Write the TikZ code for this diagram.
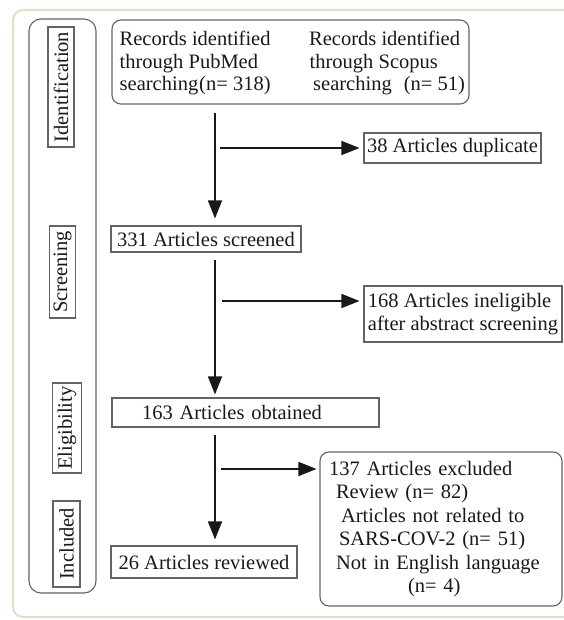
\documentclass[tikz,border=0pt]{standalone}
\usepackage{fontspec}
\setmainfont{Liberation Serif}
\usetikzlibrary{arrows.meta,positioning}
\definecolor{FrameTan}{RGB}{228,224,198}
\definecolor{BoxGray}{RGB}{100,100,100}
\definecolor{InkDark}{RGB}{25,25,25}

\begin{document}
\begin{tikzpicture}[x=1pt, y=-1pt,
    txt/.style={font=\fontsize{20.5pt}{22.5pt}\selectfont, text=InkDark},
    box/.style={txt, draw=BoxGray, line width=1.1pt, inner sep=0pt},
    roundbox/.style={box, rounded corners=9pt},
    phase/.style={box, rotate=90, minimum height=26pt},
    flow/.style={-{Triangle[length=18pt,width=14pt]}, line width=1.6pt, draw=InkDark}]
  \useasboundingbox (0,0) rectangle (563,620);
  \fill[white] (0,0) rectangle (563,620);
  \draw[FrameTan, line width=2pt, rounded corners=10pt] (13,10) rectangle (585,617);
  % phase column
  \draw[BoxGray, line width=1.1pt, rounded corners=12pt] (29,19) rectangle (96,593);
  \node[phase, minimum width=120pt] (ident) at (61,87) {Identification};
  \node[phase, minimum width=92pt] (screen) at (62.5,272) {Screening};
  \node[phase, minimum width=90pt, minimum height=29pt] (elig) at (67,428) {Eligibility};
  \node[phase, minimum width=86pt, minimum height=27pt] (incl) at (66.5,544) {Included};
  % flow boxes
  \node[roundbox, minimum width=357pt, minimum height=84pt] (records) at (290.5,62) {};
  \node[txt, align=left, anchor=north west, inner sep=0pt] (pubmed) at (119.5,31)
    {Records identified\\through PubMed\\searching\hspace{1pt}(n= 318)};
  \node[txt, align=left, anchor=north west, inner sep=0pt] (scopus) at (309,31)
    {Records identified\\\hspace*{0.5pt}through Scopus\\\hspace*{4pt}searching\hspace{12pt}(n= 51)};
  \node[box, minimum width=177pt, minimum height=30pt] (dup) at (452.5,148) {38 Articles duplicate};
  \node[box, minimum width=190pt, minimum height=26pt] (screened) at (206,239) {331 Articles screened};
  \node[box, align=left, minimum width=198pt, minimum height=56pt] (inelig) at (463,314)
    {168 Articles ineligible\\after abstract screening};
  \node[box, align=left, text width=207pt, inner xsep=30pt, minimum height=29pt] (obtained) at (245.5,412.5)
    {163 Articles obtained};
  \node[roundbox, align=left, text width=224pt, inner xsep=9pt, minimum height=154pt,
    font=\fontsize{20.5pt}{23.4pt}\selectfont] (excluded) at (441,529)
    {137 Articles excluded\\
     \hspace*{7pt}Review (n= 82)\\
     \hspace*{12pt}Articles not related to\\
     \hspace*{10pt}SARS-COV-2 (n= 51)\\
     \hspace*{7pt}Not in English language\\
     \hspace*{79pt}(n= 4)};
  \node[box, minimum width=186pt, minimum height=32pt] (reviewed) at (204,562) {26 Articles reviewed};
  % connectors
  \coordinate (spine) at (215,0);
  \coordinate (fork2) at (215,301);
  \coordinate (fork3) at (215,469);
  \draw[flow, shorten <=8pt, shorten >=7pt] (spine |- records.south) -- (spine |- screened.north);
  \draw[flow, shorten <=5pt, shorten >=4pt] (spine |- dup.west) -- (dup.west);
  \draw[flow, shorten <=7pt, shorten >=3pt] (spine |- screened.south) -- (spine |- obtained.north);
  \draw[flow, shorten <=7pt, shorten >=4pt] (fork2) -- (fork2 -| inelig.west);
  \draw[flow, shorten <=7pt, shorten >=6pt] (spine |- obtained.south) -- (spine |- reviewed.north);
  \draw[flow, shorten <=6pt, shorten >=3pt] (fork3) -- (fork3 -| excluded.west);
\end{tikzpicture}
\end{document}
